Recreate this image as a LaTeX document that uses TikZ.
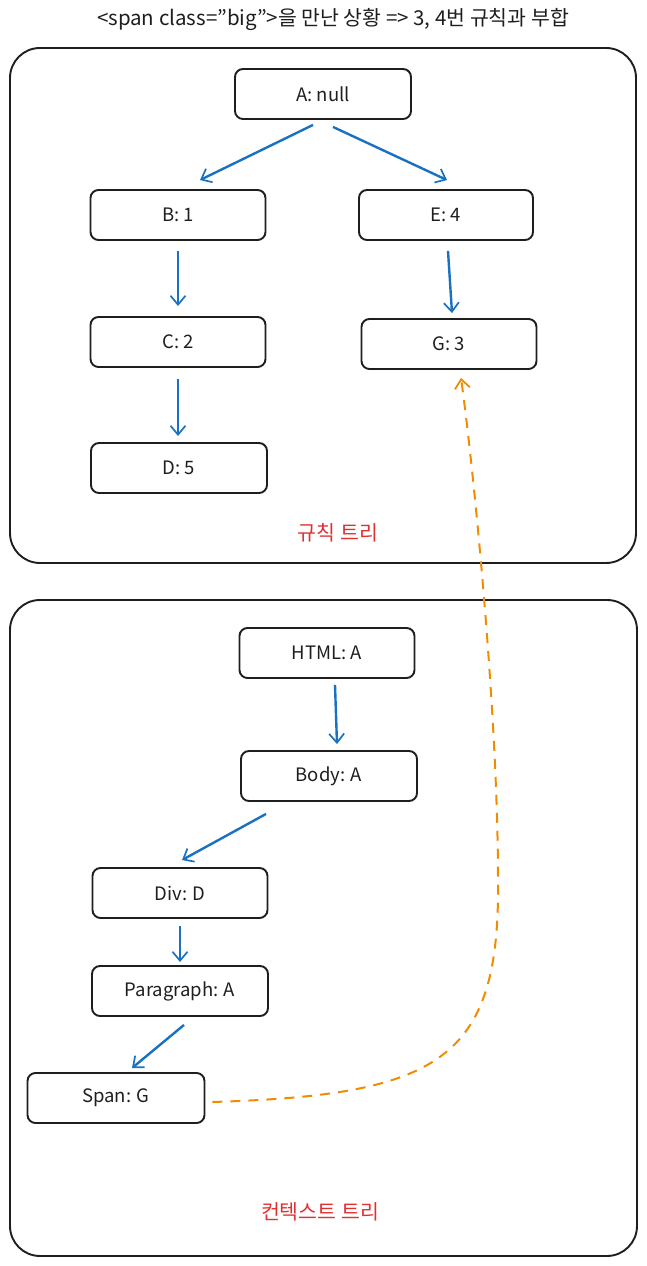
\documentclass[tikz,border=0pt]{standalone}
\usepackage{fontspec}
\setmainfont{Noto Sans CJK KR}
\usetikzlibrary{arrows.meta}
\definecolor{ink}{HTML}{1E1E1E}
\definecolor{ablue}{HTML}{1971C2}
\definecolor{aorange}{HTML}{F08C00}
\definecolor{ared}{HTML}{E03131}
\begin{document}
\begin{tikzpicture}[x=1pt,y=1pt,
  treebox/.style={draw=ink,line width=1.9pt,rounded corners=8pt,minimum width=175pt,minimum height=50pt,inner sep=0pt,font=\fontsize{18.5}{21}\selectfont,text=ink},
  outerbox/.style={draw=ink,line width=1.9pt,rounded corners=30pt},
  tarrow/.style={draw=ablue,line width=2.4pt,-{Straight Barb[length=9pt,width=15pt,line width=1.7pt]}},
  carrow/.style={draw=aorange,line width=2pt,dash pattern=on 10pt off 8pt,-{Straight Barb[length=9pt,width=15pt,line width=1.8pt]}},
  redlabel/.style={text=ared,font=\fontsize{20.5}{23}\selectfont},
  titlelabel/.style={text=ink,font=\fontsize{20.5}{23}\selectfont}]
\useasboundingbox (0,0) rectangle (646,1266);
% title
\node[titlelabel] (title) at (333,1246) {<span class=\symbol{34}big\symbol{34}>을 만난 상황 => 3, 4번 규칙과 부합};
% outer frames
\draw[outerbox] (10,703) rectangle (636,1218);
\draw[outerbox] (10,10) rectangle (637,666);
% rule tree
\node[treebox,minimum width=176pt] (A) at (323,1172) {A: null};
\node[treebox] (B) at (178,1051) {B: 1};
\node[treebox,minimum width=174pt] (E) at (446,1051) {E: 4};
\node[treebox] (C) at (178,924) {C: 2};
\node[treebox] (G) at (449,922) {G: 3};
\node[treebox,minimum width=176pt] (D) at (179,798) {D: 5};
\node[redlabel] (rulelabel) at (338,733) {규칙 트리};
% context tree
\node[treebox] (html) at (327,613) {HTML: A};
\node[treebox,minimum width=176pt] (body) at (329,490) {Body: A};
\node[treebox] (div) at (180,373) {Div: D};
\node[treebox,minimum width=176pt] (para) at (180,275) {Paragraph: A};
\node[treebox,minimum width=177pt] (span) at (116,168) {Span: G};
\node[redlabel] (ctxlabel) at (320,54) {컨텍스트 트리};
% rule tree arrows
\draw[tarrow] ([xshift=-10pt,yshift=-5pt]A.south) -- ([xshift=22pt,yshift=9pt]B.north);
\draw[tarrow] ([xshift=10pt,yshift=-7pt]A.south) -- ([xshift=1pt,yshift=9pt]E.north);
\draw[tarrow] ([yshift=-10pt]B.south) -- ([yshift=10pt]C.north);
\draw[tarrow] ([xshift=2pt,yshift=-10pt]E.south) -- ([xshift=3pt,yshift=5pt]G.north);
\draw[tarrow] ([yshift=-11pt]C.south) -- ([xshift=-1pt,yshift=6pt]D.north);
% context tree arrows
\draw[tarrow] ([xshift=8pt,yshift=-6pt]html.south) -- ([xshift=8pt,yshift=6pt]body.north);
\draw[tarrow] ([xshift=-63pt,yshift=-12pt]body.south) -- ([xshift=2pt,yshift=7pt]div.north);
\draw[tarrow] ([yshift=-7pt]div.south) -- ([yshift=3pt]para.north);
\draw[tarrow] ([xshift=4pt,yshift=-8pt]para.south) -- ([xshift=16pt,yshift=4pt]span.north);
% span -> G dashed
\coordinate (cs) at ([xshift=7pt,yshift=-4pt]span.east);
\coordinate (cm) at (498,386);
\coordinate (ce) at ([xshift=12pt,yshift=-8pt]G.south);
\draw[carrow] (cs) .. controls (440,171) and (500,206) .. (cm) .. controls (498,546) and (475,786) .. (ce);
\end{tikzpicture}
\end{document}
